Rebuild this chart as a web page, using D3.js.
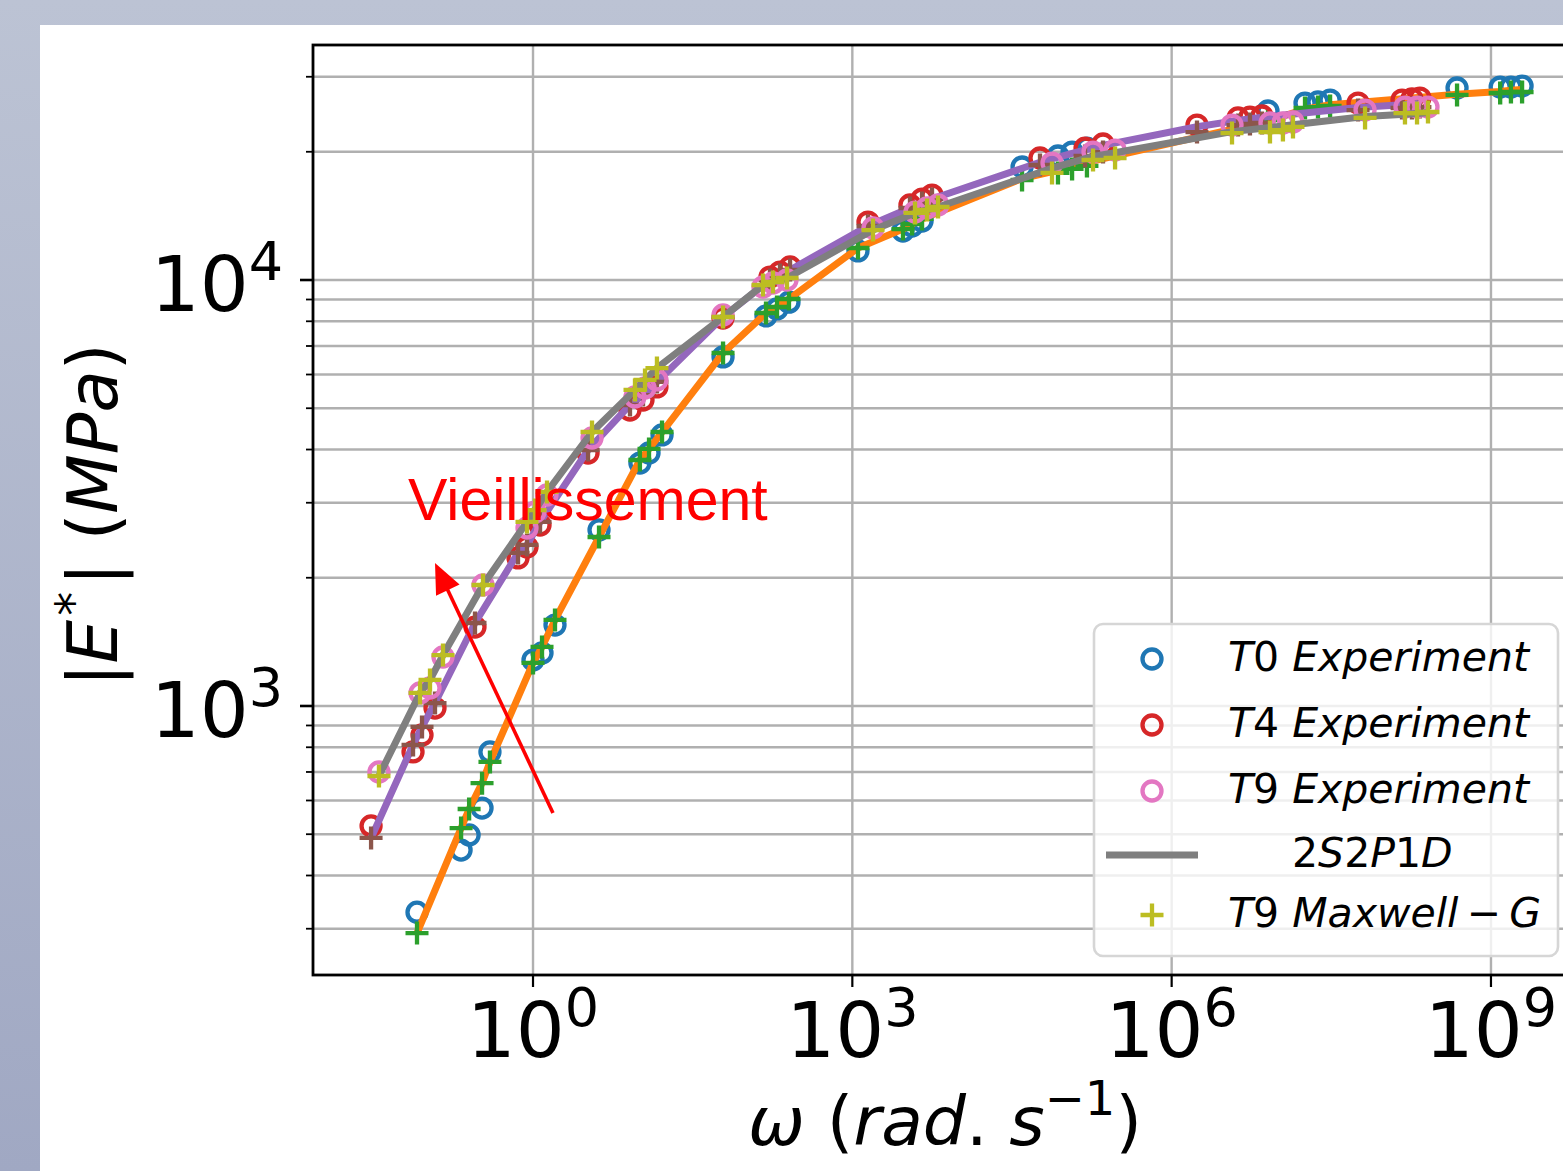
<!DOCTYPE html>
<html>
<head>
<meta charset="utf-8">
<script src="https://cdn.jsdelivr.net/npm/d3@7"></script>
<style>
  html, body { margin: 0; padding: 0; overflow: hidden; background: #fff; }
  svg { display: block; }
</style>
</head>
<body>
<svg id="chart" width="1563" height="1171"></svg>
<script>
// ---- data (omega in rad/s, |E*| in MPa) ----
const t0Omega = [0.0813, 0.211, 0.251, 0.332, 0.394, 1.00, 1.215, 1.609, 4.17, 10.1, 12.3, 16.3, 61.0, 154.5, 196, 254,
  1130, 2990, 3640, 4520, 39300, 85500, 116000, 160000, 8.04e6, 1.79e7, 2.37e7, 3.08e7, 4.80e8, 1.22e9, 1.54e9, 1.96e9];
const t0Exp = [328, 459, 498, 576, 780, 1282, 1332, 1549, 2590, 3718, 3926, 4328, 6597, 8234, 8551, 8872,
  11700, 13030, 13390, 13750, 18420, 19550, 19970, 20400, 24930, 26030, 26180, 26450, 28230, 28380, 28380, 28530];
const t0Maxwell = [293, 517, 573, 659, 739, 1262, 1376, 1592, 2493, 3780, 4012, 4397, 6740, 8367, 8643, 9024,
  11890, 13170, 13530, 13910, 17170, 17840, 18230, 18530, 23740, 25340, 25470, 25620, 27190, 27480, 27630, 27630];
const t0Fit = [293, 517, 573, 659, 739, 1262, 1376, 1592, 2493, 3780, 4012, 4397, 6740, 8367, 8643, 9024,
  11890, 13170, 13530, 13910, 17300, 18100, 18500, 18900, 23600, 25200, 25500, 25800, 27300, 27700, 27900, 28000];

const t4Omega = [0.0301, 0.0746, 0.0906, 0.120, 0.285, 0.723, 0.878, 1.164, 3.29, 8.15, 10.8, 14.6, 61.0, 168.5, 209, 260,
  1403, 3480, 4520, 5605, 57950, 153500, 226500, 1.73e6, 4.20e6, 5.44e6, 7.06e6, 5.64e7, 1.46e8, 1.81e8, 2.15e8];
const t4Exp = [523, 780, 855, 989, 1532, 2226, 2362, 2660, 3926, 4953, 5228, 5610, 8144, 10160, 10440, 10730,
  13680, 15000, 15490, 15830, 19340, 20400, 20860, 23110, 24010, 24130, 24270, 26030, 26450, 26600, 26740];
const t4Maxwell = [490, 810, 893, 1016, 1566, 2287, 2388, 2704, 3990, 5089, 5370, 5763, 8187, 10000, 10270, 10560,
  13390, 14760, 15170, 15490, 18620, 19550, 19970, 22250, 23110, 23240, 23370, 25060, 25340, 25340, 25470];
const t4Fit = [490, 810, 893, 1016, 1566, 2287, 2388, 2704, 3990, 5089, 5370, 5763, 8187, 10000, 10270, 10560,
  13390, 14760, 15170, 15490, 18900, 20200, 20700, 22900, 23700, 23900, 24100, 25400, 25800, 25900, 26000];

const t9Omega = [0.0357, 0.0868, 0.1077, 0.1427, 0.339, 0.878, 1.044, 1.354, 3.584, 9.08, 11.28, 14.6, 61.0, 144.8, 179.8, 243.4,
  1564, 3881, 5030, 6383, 75160, 182500, 294000, 3.69e6, 8.39e6, 1.11e7, 1.38e7, 6.56e7, 1.556e8, 2.02e8, 2.56e8];
const t9Exp = [700, 1073, 1102, 1303, 1923, 2617, 2853, 3128, 4257, 5314, 5579, 5826, 8276, 9630, 9840, 10000,
  13250, 14440, 14760, 15000, 18820, 19970, 20190, 23110, 23370, 23370, 23490, 25060, 25470, 25470, 25470];
const t9Maxwell = [685, 1073, 1151, 1317, 1923, 2704, 2884, 3180, 4397, 5519, 5826, 6214, 8187, 9734, 9893, 10110,
  13100, 14370, 14600, 14840, 17840, 19130, 19340, 22130, 22250, 22490, 22870, 24010, 24660, 24660, 24800];
const t9Fit = [685, 1073, 1151, 1317, 1923, 2704, 2884, 3180, 4397, 5519, 5826, 6214, 8187, 9734, 9893, 10110,
  13100, 14370, 14600, 14840, 18300, 19500, 19900, 22300, 22800, 23000, 23150, 24200, 24500, 24600, 24700];

const xMajorTicks = [1, 1e3, 1e6, 1e9];
const xTickExp = ["0", "3", "6", "9"];
const yMajorTicks = [1e3, 1e4];
const yTickExp = ["3", "4"];
const yMinorTicks = [300, 400, 500, 600, 700, 800, 900, 2000, 3000, 4000, 5000, 6000, 7000, 8000, 9000, 20000, 30000];

const legendLabels = ["T0 Experiment", "T4 Experiment", "T9 Experiment", "2S2P1D", "T9 Maxwell\u2009\u2212\u2009G"];

// annotation (arrow tail, arrow tip, text anchor) in data coordinates
const arrowFrom = [1.54, 561];
const arrowTo = [0.12, 2166];
const noteAt = [0.067, 2733];
const noteText = "Vieillissement";

// ---- layout ----
const W = 1563, H = 1171;
const plot = { left: 313, top: 45, right: 1577, bottom: 975 };
const FONT = "DejaVu Sans";

const svg = d3.select("#chart");

// slide background
const defs = svg.append("defs");
const grad = defs.append("linearGradient").attr("id", "bg").attr("x1", 0).attr("y1", 0).attr("x2", 0).attr("y2", 1);
grad.append("stop").attr("offset", "0%").attr("stop-color", "#bcc3d4");
grad.append("stop").attr("offset", "100%").attr("stop-color", "#a0a8c3");
svg.append("rect").attr("width", W).attr("height", H).attr("fill", "url(#bg)");
svg.append("rect").attr("x", 40).attr("y", 25).attr("width", W - 40).attr("height", H - 25).attr("fill", "#fff");

defs.append("clipPath").attr("id", "plotClip")
  .append("rect").attr("x", plot.left).attr("y", plot.top)
  .attr("width", plot.right - plot.left).attr("height", plot.bottom - plot.top);

// scales
const x = d3.scaleLog().domain([0.00857, 6.43e9]).range([plot.left, plot.right]);
const y = d3.scaleLog().domain([233.6, 35620]).range([plot.bottom, plot.top]);

// grid
const grid = svg.append("g").attr("clip-path", "url(#plotClip)");
grid.selectAll(".gy")
  .data(yMajorTicks.concat(yMinorTicks))
  .enter().append("line")
  .attr("x1", plot.left).attr("x2", plot.right)
  .attr("y1", d => y(d)).attr("y2", d => y(d))
  .style("stroke", "#b0b0b0").style("stroke-width", 2.4);
grid.selectAll(".gx")
  .data(xMajorTicks)
  .enter().append("line")
  .attr("y1", plot.top).attr("y2", plot.bottom)
  .attr("x1", d => x(d)).attr("x2", d => x(d))
  .style("stroke", "#b0b0b0").style("stroke-width", 2.4);

// series
const series = [
  { omega: t0Omega, exp: t0Exp, fit: t0Fit, max: t0Maxwell, cExp: "#1f77b4", cFit: "#ff7f0e", cMax: "#2ca02c" },
  { omega: t4Omega, exp: t4Exp, fit: t4Fit, max: t4Maxwell, cExp: "#d62728", cFit: "#9467bd", cMax: "#8c564b" },
  { omega: t9Omega, exp: t9Exp, fit: t9Fit, max: t9Maxwell, cExp: "#e377c2", cFit: "#7f7f7f", cMax: "#bcbd22" }
];

const plus = "M-11.5,0H11.5M0,-11.5V11.5";
const MSW = 4.3; // marker stroke width
const dataG = svg.append("g").attr("clip-path", "url(#plotClip)");
const line = d3.line().x(d => x(d[0])).y(d => y(d[1]));

series.forEach(s => {
  // experiment: open circles
  dataG.append("g").selectAll("circle")
    .data(d3.zip(s.omega, s.exp))
    .enter().append("circle")
    .attr("cx", d => x(d[0])).attr("cy", d => y(d[1])).attr("r", 9.5)
    .style("fill", "none").style("stroke", s.cExp).style("stroke-width", MSW);
  // 2S2P1D fit line
  dataG.append("path")
    .datum(d3.zip(s.omega, s.fit))
    .attr("d", line)
    .style("fill", "none").style("stroke", s.cFit).style("stroke-width", 7)
    .style("stroke-linejoin", "round");
  // Maxwell-G: plus markers
  dataG.append("g").selectAll("path")
    .data(d3.zip(s.omega, s.max))
    .enter().append("path")
    .attr("d", plus)
    .attr("transform", d => `translate(${x(d[0])},${y(d[1])})`)
    .style("fill", "none").style("stroke", s.cMax).style("stroke-width", MSW);
});

// spines
svg.append("rect")
  .attr("x", plot.left).attr("y", plot.top)
  .attr("width", plot.right - plot.left).attr("height", plot.bottom - plot.top)
  .style("fill", "none").style("stroke", "#000").style("stroke-width", 2.8);

// ticks
svg.selectAll(".xt").data(xMajorTicks).enter().append("line")
  .attr("x1", d => x(d)).attr("x2", d => x(d))
  .attr("y1", plot.bottom).attr("y2", plot.bottom + 12)
  .style("stroke", "#000").style("stroke-width", 2.2);
svg.selectAll(".yt").data(yMajorTicks).enter().append("line")
  .attr("y1", d => y(d)).attr("y2", d => y(d))
  .attr("x1", plot.left).attr("x2", plot.left - 13)
  .style("stroke", "#000").style("stroke-width", 2.6);
svg.selectAll(".ytm").data(yMinorTicks).enter().append("line")
  .attr("y1", d => y(d)).attr("y2", d => y(d))
  .attr("x1", plot.left).attr("x2", plot.left - 7)
  .style("stroke", "#000").style("stroke-width", 1.8);

// power-of-ten tick labels
function powLabel(g, px, py, exp, anchor) {
  const t = g.append("text")
    .attr("x", px).attr("y", py)
    .attr("text-anchor", anchor)
    .style("font-family", FONT).style("font-size", "77px").style("fill", "#000");
  t.append("tspan").text("10");
  t.append("tspan").attr("dy", -31).style("font-size", "54px").text(exp);
}
xMajorTicks.forEach((d, i) => powLabel(svg, x(d), plot.bottom + 82, xTickExp[i], "middle"));
yMajorTicks.forEach((d, i) => powLabel(svg, plot.left - 30, y(d) + 31, yTickExp[i], "end"));

// mathtext-like label: letters italic, digits and symbols upright
function mathText(t, str) {
  str.match(/[A-Za-z]+|[^A-Za-z]+/g).forEach(p => {
    t.append("tspan").style("font-style", /[A-Za-z]/.test(p) ? "italic" : "normal").text(p);
  });
}

// x axis label
const xl = svg.append("text")
  .attr("x", 945).attr("y", 1145).attr("text-anchor", "middle")
  .style("font-family", FONT).style("font-size", "68px").style("fill", "#000");
xl.append("tspan").style("font-style", "italic").text("\u03c9");
xl.append("tspan").text(" (");
xl.append("tspan").style("font-style", "italic").text("rad");
xl.append("tspan").text(". ");
xl.append("tspan").style("font-style", "italic").text("s");
xl.append("tspan").attr("dy", -30).style("font-size", "48px").text("\u22121");
xl.append("tspan").attr("dy", 30).text(")");

// y axis label
const yl = svg.append("text")
  .attr("transform", "translate(117,515) rotate(-90)")
  .attr("text-anchor", "middle")
  .style("font-family", FONT).style("font-size", "69px").style("fill", "#000");
yl.append("tspan").text("|");
yl.append("tspan").style("font-style", "italic").text("E");
yl.append("tspan").attr("dx", 4).attr("dy", -27).style("font-size", "48px").text("*");
yl.append("tspan").attr("dx", 6).attr("dy", 27).text("|");
yl.append("tspan").text(" (");
yl.append("tspan").style("font-style", "italic").text("MPa");
yl.append("tspan").text(")");

// annotation
const ann = svg.append("g");
const ax0 = x(arrowFrom[0]), ay0 = y(arrowFrom[1]);
const ax1 = x(arrowTo[0]), ay1 = y(arrowTo[1]);
const len = Math.hypot(ax1 - ax0, ay1 - ay0);
const ux = (ax1 - ax0) / len, uy = (ay1 - ay0) / len;
const headL = 30, headW = 13;
ann.append("line")
  .attr("x1", ax0).attr("y1", ay0)
  .attr("x2", ax1 - ux * headL * 0.8).attr("y2", ay1 - uy * headL * 0.8)
  .style("stroke", "#ff0000").style("stroke-width", 3.6);
const bx = ax1 - ux * headL, by = ay1 - uy * headL;
ann.append("path")
  .attr("d", `M${ax1},${ay1}L${bx - uy * headW},${by + ux * headW}L${bx + uy * headW},${by - ux * headW}Z`)
  .style("fill", "#ff0000");
ann.append("text")
  .attr("x", x(noteAt[0])).attr("y", y(noteAt[1]))
  .style("font-family", "Liberation Sans").style("font-size", "59px").style("fill", "#ff0000")
  .text(noteText);

// legend
const lg = svg.append("g");
lg.append("rect")
  .attr("x", 1094).attr("y", 624).attr("width", 464).attr("height", 332).attr("rx", 9)
  .style("fill", "#fff").style("fill-opacity", 0.8)
  .style("stroke", "#d6d6d6").style("stroke-width", 2.6);
const rowY = [659, 725, 791, 855, 915];
const textX = [1228, 1228, 1228, 1292, 1228];
const legendColors = ["#1f77b4", "#d62728", "#e377c2", "#7f7f7f", "#bcbd22"];
legendLabels.forEach((lab, i) => {
  if (i < 3) {
    lg.append("circle").attr("cx", 1152).attr("cy", rowY[i]).attr("r", 9.5)
      .style("fill", "none").style("stroke", legendColors[i]).style("stroke-width", MSW);
  } else if (i === 3) {
    lg.append("line").attr("x1", 1106).attr("x2", 1198).attr("y1", rowY[i]).attr("y2", rowY[i])
      .style("stroke", legendColors[i]).style("stroke-width", 7);
  } else {
    lg.append("path").attr("d", plus).attr("transform", `translate(1152,${rowY[i]})`)
      .style("fill", "none").style("stroke", legendColors[i]).style("stroke-width", MSW);
  }
  const t = lg.append("text")
    .attr("x", textX[i]).attr("y", rowY[i] + 12)
    .style("font-family", FONT).style("font-size", "41px").style("fill", "#000");
  mathText(t, lab);
});
</script>
</body>
</html>
